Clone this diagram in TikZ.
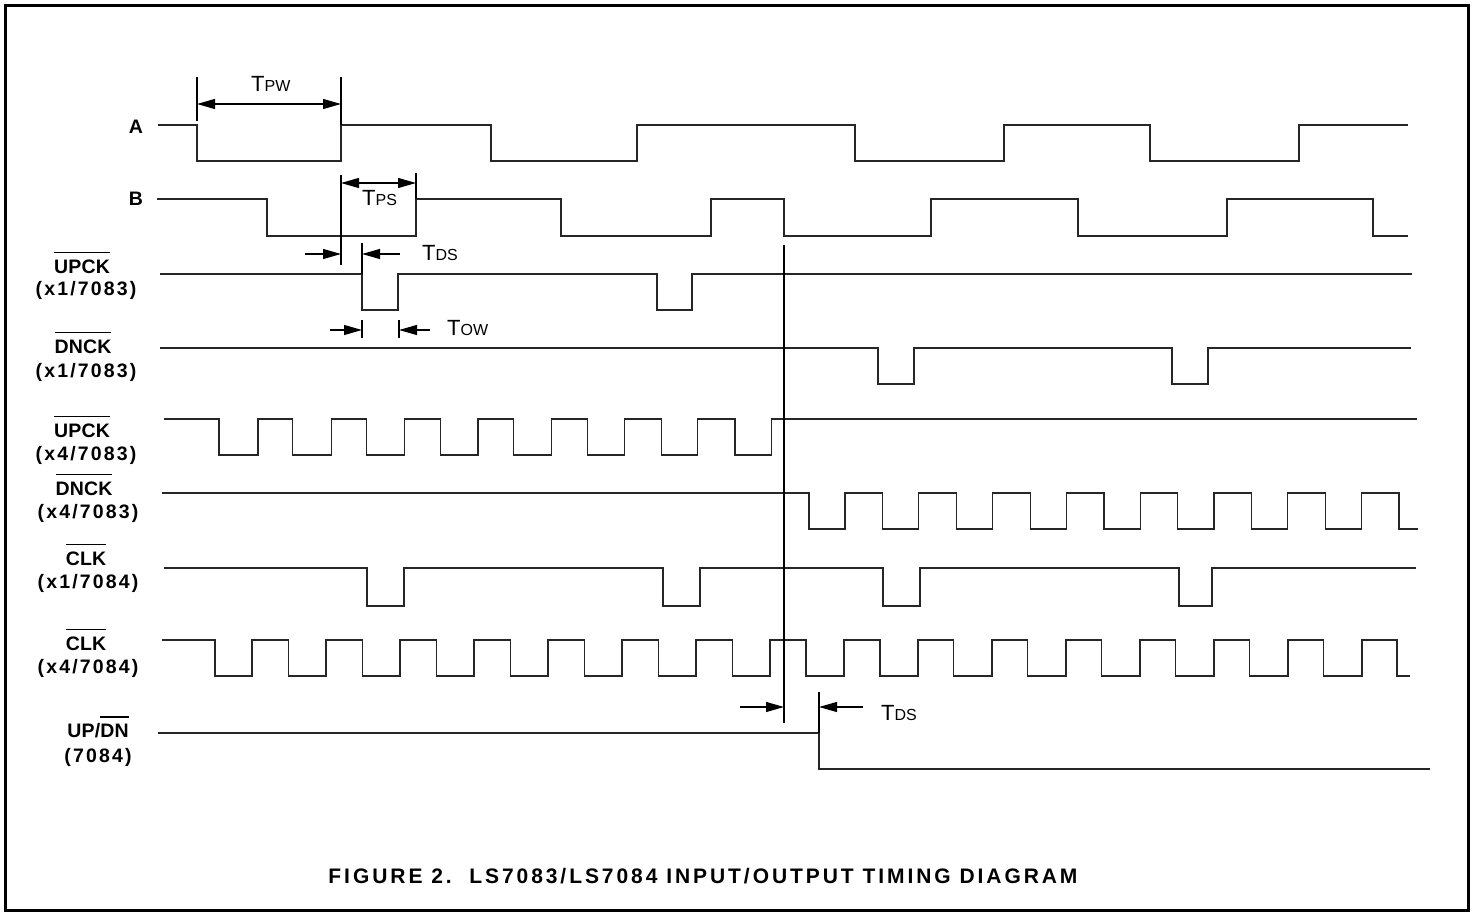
\documentclass[tikz,border=0pt]{standalone}
\usepackage{fontspec}
\setmainfont{Liberation Sans}
\newfontfamily\namefont[LetterSpace=1]{Liberation Sans}
\newfontfamily\chipfont[LetterSpace=11]{Liberation Sans}
\newfontfamily\capfont[LetterSpace=14]{Liberation Sans}
\usetikzlibrary{arrows.meta}
\newcommand{\ovl}[1]{\leavevmode\setbox0\hbox{#1}\rlap{\raisebox{\dimexpr\ht0+6pt\relax}{\rule{\wd0}{1.3pt}}}\box0}
\newcommand{\tsym}[1]{{\fontsize{22}{22}\selectfont T}{\fontsize{16}{16}\selectfont #1}}
\tikzset{%
  sig/.style={line width=1.2pt, black!85},
  tick/.style={line width=1.1pt},
  dim/.style={%
    line width=1.1pt,
    -{Triangle[length=18pt,width=10pt]}
  },
  dimboth/.style={%
    line width=1.1pt,
    {Triangle[length=18pt,width=10pt]}-{Triangle[length=18pt,width=10pt]}
  },
  lbl/.style={anchor=base, inner sep=0pt, font=\namefont\fontsize{19.5}{19.5}\selectfont\bfseries},
  chip/.style={anchor=base, inner sep=0pt, font=\chipfont\fontsize{19.5}{19.5}\selectfont\bfseries},
  tlbl/.style={anchor=base west, inner sep=0pt}
}
\begin{document}
\begin{tikzpicture}[x=1pt,y=-1pt]
    \useasboundingbox (0,0) rectangle (1473,915);
    \draw[line width=3pt] (5.5,6) rectangle (1468,910);

    % signal names
    \node[lbl] (nA) at (136,134) {A};
    \node[lbl] (nB) at (136,205) {B};
    \node[lbl] (nup1) at (82,273) {\ovl{UPCK}};
    \node[chip] (cup1) at (86,295) {(x1/7083)};
    \node[lbl] (ndn1) at (83,353) {\ovl{DNCK}};
    \node[chip] (cdn1) at (86,377) {(x1/7083)};
    \node[lbl] (nup4) at (82,437) {\ovl{UPCK}};
    \node[chip] (cup4) at (86,460) {(x4/7083)};
    \node[lbl] (ndn4) at (84,495) {\ovl{DNCK}};
    \node[chip] (cdn4) at (88,518) {(x4/7083)};
    \node[lbl] (nclk1) at (86,565) {\ovl{CLK}};
    \node[chip] (cclk1) at (88,588) {(x1/7084)};
    \node[lbl] (nclk4) at (86,650) {\ovl{CLK}};
    \node[chip] (cclk4) at (88,673) {(x4/7084)};
    \node[lbl] (nud) at (98,737) {UP/\ovl{DN}};
    \node[chip] (cud) at (98,762) {(7084)};

    % waveforms
    \draw[sig] (158,125) -| (197,161) -| (341,125) -| (491,161) -| (637,125)
      -| (855,161) -| (1004,125) -| (1150,161) -| (1299,125) -- (1408,125);
    \draw[sig] (157,199) -| (267,236) -| (416,199) -| (561,236) -| (711,199)
      -| (784,236) -| (931,199) -| (1078,236) -| (1227,199) -| (1373,236) -- (1408,236);
    \draw[sig] (160,274) -| (362,310) -| (398,274) -| (657,310) -| (692,274) -- (1412,274);
    \draw[sig] (160,348) -| (878,384) -| (914,348) -| (1172,384) -| (1208,348) -- (1411,348);
    \draw[sig] (164,419) foreach \k in {0,...,7}{ -| ({219+73.7*\k},455) -| ({258+73.3*\k},419) }
      -- (1417,419);
    \draw[sig] (162,493) foreach \k in {0,...,7}{ -| ({809+73.75*\k},529) -| ({845+73.8*\k},493) }
      -| (1399,529) -- (1418,529);
    \draw[sig] (164,568) -| (367,606) -| (404,568) -| (663,606) -| (700,568)
      -| (883,606) -| (920,568) -| (1179,606) -| (1212,568) -- (1416,568);
    \draw[sig] (162,640) foreach \k in {0,...,15}{ -| ({215+73.88*\k},676) -| ({252+74*\k},640) }
      -| (1397,676) -- (1410,676);
    \draw[sig] (158,733) -| (819,769) -- (1430,769);

    % TPW
    \draw[tick] (197,77) -- (197,121);
    \draw[tick] (341,77) -- (341,125);
    \draw[dimboth] (197,104) -- (341,104);
    \node[tlbl] (tpw) at (251,92) {\tsym{PW}};

    % TPS
    \draw[tick] (341,175) -- (341,265);
    \draw[tick] (416,173) -- (416,199);
    \draw[dimboth] (341,183) -- (416,183);
    \node[tlbl] (tps) at (362,205) {\tsym{PS}};

    % TDS (top)
    \draw[tick] (362,243) -- (362,274);
    \draw[dim] (305,254) -- (341,254);
    \draw[dim] (400,254) -- (362,254);
    \node[tlbl] (tdsa) at (422,260) {\tsym{DS}};

    % TOW
    \draw[tick] (362,320) -- (362,338);
    \draw[tick] (399,320) -- (399,338);
    \draw[dim] (330,330) -- (362,330);
    \draw[dim] (430,330) -- (399,330);
    \node[tlbl] (tow) at (447,335) {\tsym{OW}};

    % TDS (bottom)
    \draw[tick] (784,245) -- (784,723);
    \draw[tick] (819,692) -- (819,733);
    \draw[dim] (740,707) -- (784,707);
    \draw[dim] (863,707) -- (819,707);
    \node[tlbl] (tdsb) at (881,720) {\tsym{DS}};

    \node[anchor=base, inner sep=0pt, font=\capfont\fontsize{21}{21}\selectfont\bfseries] (caption) at (703,883)
      {FIGURE 2.\ \ LS7083/LS7084 INPUT/OUTPUT TIMING DIAGRAM};
\end{tikzpicture}
\end{document}
